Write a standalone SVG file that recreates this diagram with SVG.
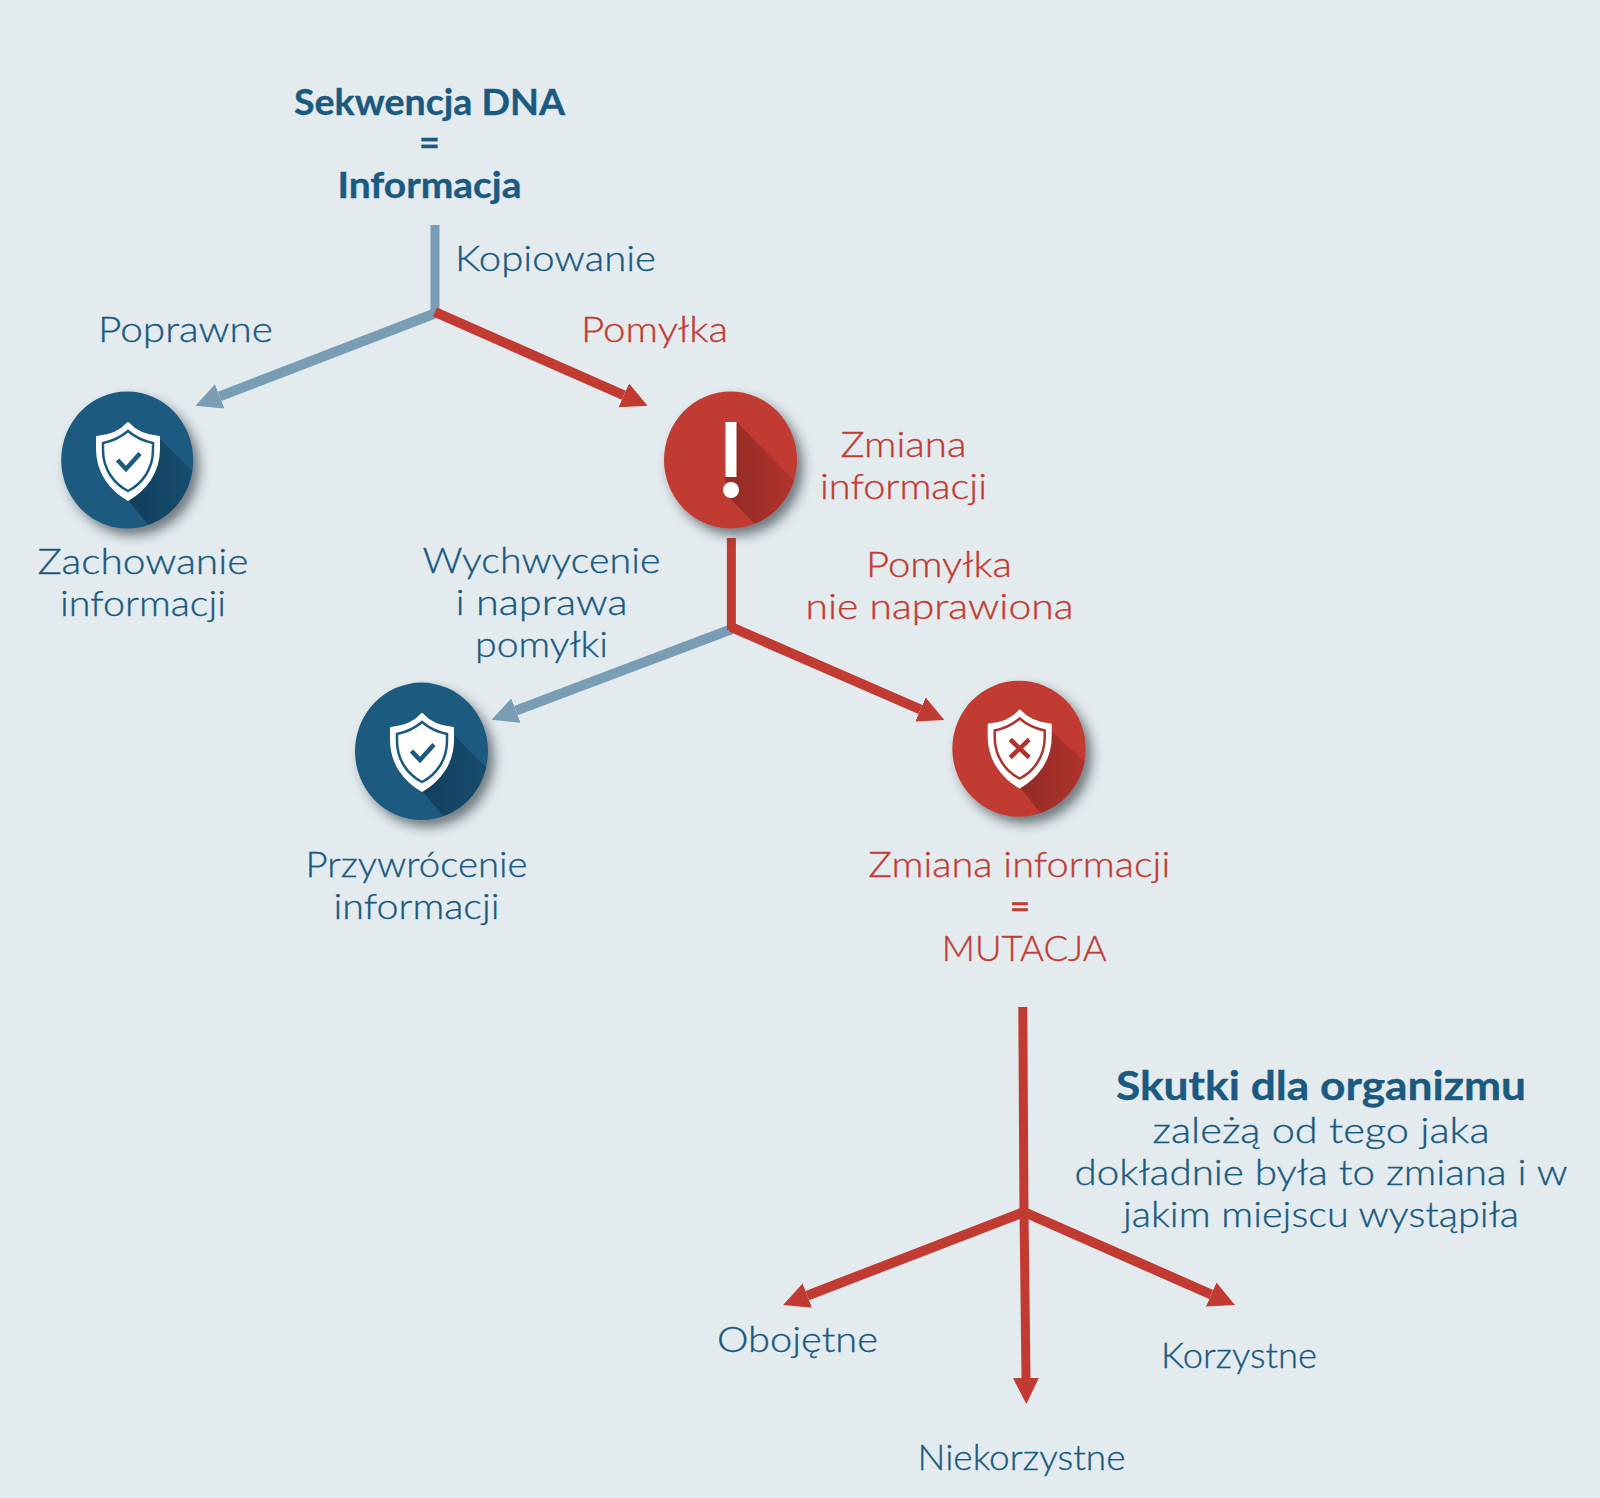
<svg xmlns="http://www.w3.org/2000/svg" width="1600" height="1498" viewBox="0 0 1600 1498">
<style>
text{font-family:"Lato","Liberation Sans",sans-serif;font-size:36px;text-anchor:middle;font-weight:300}
.b{fill:#1a5a80;stroke:#1a5a80;stroke-width:.35}.r{fill:#c23b33;stroke:#c23b33;stroke-width:.35}.h{font-weight:700}.e{font-weight:400}
.lb{stroke:#789db5;stroke-width:10;fill:none}.lr{stroke:#c23b33;stroke-width:10;fill:none}
.st{stroke-width:9}
</style>
<defs>
<marker id="mb" markerUnits="userSpaceOnUse" markerWidth="28" markerHeight="28" refX="0" refY="13" orient="auto" viewBox="0 0 28 26"><path d="M0,0L26,13L0,26Z" fill="#789db5"/></marker>
<marker id="mr" markerUnits="userSpaceOnUse" markerWidth="28" markerHeight="28" refX="0" refY="13" orient="auto" viewBox="0 0 28 26"><path d="M0,0L26,13L0,26Z" fill="#c23b33"/></marker>
<filter id="ds" x="-30%" y="-30%" width="170%" height="170%"><feDropShadow dx="6" dy="7" stdDeviation="6" flood-color="#1c2a33" flood-opacity=".6"/></filter>
<linearGradient id="sb" x1="0" x2="1" y1="0" y2="0"><stop offset="0" stop-color="#123f5c"/><stop offset="1" stop-color="#174f72"/></linearGradient>
<linearGradient id="sr" x1="0" x2="1" y1="0" y2="0"><stop offset="0" stop-color="#942a25"/><stop offset="1" stop-color="#b5352e"/></linearGradient>
<clipPath id="c1"><ellipse cx="127.2" cy="460" rx="66" ry="68.5"/></clipPath>
<clipPath id="c2"><ellipse cx="730.5" cy="460" rx="66.5" ry="68.5"/></clipPath>
<clipPath id="c3"><ellipse cx="421.5" cy="751.3" rx="66.5" ry="68.7"/></clipPath>
<clipPath id="c4"><ellipse cx="1019" cy="748.7" rx="66.7" ry="68"/></clipPath>
<g id="shield">
<path d="M0,-38C7,-30 18,-25 31,-24V-12C31,12 17,29 0,39C-17,29 -31,12 -31,-12V-24C-18,-25 -7,-30 0,-38Z" fill="#fff" stroke="#fff" stroke-width="2" stroke-linejoin="round"/>
<path d="M0,-30C7,-24 15,-20 25,-18V-11C25,8 14,23 0,30C-14,23 -25,8 -25,-11V-18C-15,-20 -7,-24 0,-30Z" fill="none" stroke="currentColor" stroke-width="2.5"/>
</g>
</defs>
<rect width="1600" height="1498" fill="#e4ebef"/>
<g id="connectors">
<path class="lb st" d="M435,225V316"/>
<path class="lb" d="M436,313L219.7,396.3" marker-end="url(#mb)"/>
<path class="lr" d="M435,312L623.8,395.3" marker-end="url(#mr)"/>
<path class="lb" d="M732,629L515.9,710.6" marker-end="url(#mb)"/>
<path class="lr st" d="M731.4,538V630"/>
<path class="lr" d="M731,627L920.5,709.5" marker-end="url(#mr)"/>
<path class="lr st" d="M1022.8,1007L1024,1216"/>
<path class="lr" d="M1024,1212L807.3,1295.6" marker-end="url(#mr)"/>
<path class="lr" d="M1024,1212L1211.2,1294.5" marker-end="url(#mr)"/>
<path class="lr st" d="M1024,1212L1026,1378" marker-end="url(#mr)"/>
</g>
<g id="node-top">
<text class="b h" x="429.5" y="114.5" textLength="271" lengthAdjust="spacingAndGlyphs">Sekwencja DNA</text>
<text class="b h" x="429.5" y="155">=</text>
<text class="b h" x="429.5" y="197.5" textLength="184" lengthAdjust="spacingAndGlyphs">Informacja</text>
</g>
<g id="label-kopiowanie"><text class="b" x="555.5" y="270.5" textLength="201" lengthAdjust="spacingAndGlyphs">Kopiowanie</text></g>
<g id="label-poprawne"><text class="b" x="185.5" y="341.5" textLength="175" lengthAdjust="spacingAndGlyphs">Poprawne</text></g>
<g id="label-pomylka"><text class="r" x="654.5" y="341.5" textLength="147" lengthAdjust="spacingAndGlyphs">Pomyłka</text></g>
<g id="node-zachowanie">
<ellipse cx="127.2" cy="460" rx="66" ry="68.5" fill="#1a5a80" filter="url(#ds)"/>
<path clip-path="url(#c1)" d="M159.3,438.3L205,484V540H160L128,500Z" fill="url(#sb)"/>
<g transform="translate(128,461)" style="color:#1a5a80"><use href="#shield"/><path d="M-10.5,-1L-2,8L12,-7.5" fill="none" stroke="#1a5a80" stroke-width="4.5"/></g>
<text class="b" x="143" y="574" textLength="211" lengthAdjust="spacingAndGlyphs">Zachowanie</text>
<text class="b" x="143" y="616" textLength="166" lengthAdjust="spacingAndGlyphs">informacji</text>
</g>
<g id="node-zmiana">
<ellipse cx="730.5" cy="460" rx="66.5" ry="68.5" fill="#c23b33" filter="url(#ds)"/>
<path clip-path="url(#c2)" d="M736.7,421.7L805,492V540H770L729,497L725,477Z" fill="url(#sr)"/>
<rect x="725.5" y="422" width="11" height="55" fill="#fff"/>
<ellipse cx="731" cy="490" rx="8" ry="8" fill="#fff"/>
<text class="r" x="903.5" y="456.5" textLength="126" lengthAdjust="spacingAndGlyphs">Zmiana</text>
<text class="r" x="903.5" y="498.5" textLength="167" lengthAdjust="spacingAndGlyphs">informacji</text>
</g>
<g id="label-wychwycenie">
<text class="b" x="541.5" y="572.5" textLength="238" lengthAdjust="spacingAndGlyphs">Wychwycenie</text>
<text class="b" x="541.5" y="614.5" textLength="172" lengthAdjust="spacingAndGlyphs">i naprawa</text>
<text class="b" x="541.5" y="656.5" textLength="133" lengthAdjust="spacingAndGlyphs">pomyłki</text>
</g>
<g id="label-nienaprawiona">
<text class="r" x="939" y="577" textLength="146" lengthAdjust="spacingAndGlyphs">Pomyłka</text>
<text class="r" x="939.5" y="619" textLength="268" lengthAdjust="spacingAndGlyphs">nie naprawiona</text>
</g>
<g id="node-przywrocenie">
<ellipse cx="421.5" cy="751.3" rx="66.5" ry="68.7" fill="#1a5a80" filter="url(#ds)"/>
<path clip-path="url(#c3)" d="M454,735L500,781V830H455L421.7,790.7Z" fill="url(#sb)"/>
<g transform="translate(422,752)" style="color:#1a5a80"><use href="#shield"/><path d="M-10.5,-1L-2,8L12,-7.5" fill="none" stroke="#1a5a80" stroke-width="4.5"/></g>
<text class="b" x="416.5" y="877" textLength="222" lengthAdjust="spacingAndGlyphs">Przywrócenie</text>
<text class="b" x="416.5" y="919" textLength="166" lengthAdjust="spacingAndGlyphs">informacji</text>
</g>
<g id="node-mutacja">
<ellipse cx="1019" cy="748.7" rx="66.7" ry="68" fill="#c23b33" filter="url(#ds)"/>
<path clip-path="url(#c4)" d="M1051.7,731.7L1098,773V825H1050L1020,787.3Z" fill="url(#sr)"/>
<g transform="translate(1019.7,748.5)" style="color:#b0322b"><use href="#shield"/><path d="M-9.5,-9L9.5,9M9.5,-9L-9.5,9" fill="none" stroke="#b0322b" stroke-width="4.5"/></g>
<text class="r" x="1019.3" y="876.7" textLength="302" lengthAdjust="spacingAndGlyphs">Zmiana informacji</text>
<text class="r e" x="1020" y="918.5">=</text>
<text class="r" x="1024.3" y="960.7" textLength="165" lengthAdjust="spacingAndGlyphs">MUTACJA</text>
</g>
<g id="label-skutki">
<text class="b h" x="1321" y="1100" style="font-size:40px" textLength="410" lengthAdjust="spacingAndGlyphs">Skutki dla organizmu</text>
<text class="b" x="1321" y="1143.4" textLength="337" lengthAdjust="spacingAndGlyphs">zależą od tego jaka</text>
<text class="b" x="1321" y="1185.4" textLength="493" lengthAdjust="spacingAndGlyphs">dokładnie była to zmiana i w</text>
<text class="b" x="1321" y="1227.4" textLength="396" lengthAdjust="spacingAndGlyphs">jakim miejscu wystąpiła</text>
</g>
<g id="node-obojetne"><text class="b" x="797.5" y="1352" textLength="161" lengthAdjust="spacingAndGlyphs">Obojętne</text></g>
<g id="node-korzystne"><text class="b" x="1239" y="1368" textLength="156" lengthAdjust="spacingAndGlyphs">Korzystne</text></g>
<g id="node-niekorzystne"><text class="b" x="1021.5" y="1469.5" textLength="208" lengthAdjust="spacingAndGlyphs">Niekorzystne</text></g>
</svg>
